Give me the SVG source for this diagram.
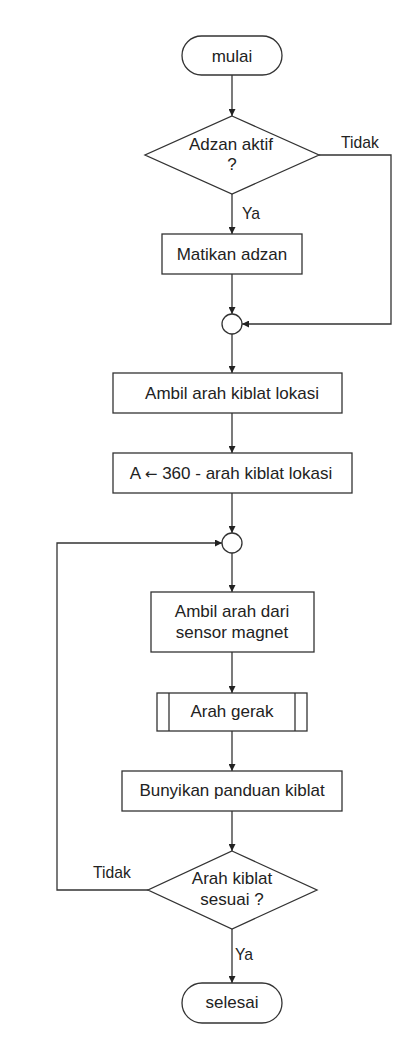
<svg xmlns="http://www.w3.org/2000/svg" width="414" height="1050" viewBox="0 0 414 1050">
  <defs>
    <marker id="arrow" viewBox="0 0 10 10" refX="10" refY="5" markerWidth="7" markerHeight="7" markerUnits="userSpaceOnUse" orient="auto">
      <path d="M0,0 L10,5 L0,10 z" fill="#222"/>
    </marker>
    <style>
      .shape { fill: #ffffff; stroke: #333333; stroke-width: 1.3; }
      .line { fill: none; stroke: #333333; stroke-width: 1.3; }
      .arr { marker-end: url(#arrow); }
      text { font-family: "Liberation Sans", Arial, sans-serif; font-size: 17px; fill: #222222; }
      .c { text-anchor: middle; }
      .lbl { font-size: 15.7px; }
      .sym { font-family: "DejaVu Sans", sans-serif; font-size: 15px; }
    </style>
  </defs>

  <rect width="414" height="1050" fill="#ffffff"/>

  <!-- connectors -->
  <g id="connectors">
    <line class="line arr" x1="232" y1="75" x2="232" y2="116"/>
    <line class="line arr" x1="232" y1="194" x2="232" y2="234"/>
    <polyline class="line arr" points="319,155 391,155 391,324 242,324"/>
    <line class="line arr" x1="232" y1="274" x2="232" y2="314"/>
    <line class="line arr" x1="232" y1="334" x2="232" y2="373"/>
    <line class="line arr" x1="232" y1="413" x2="232" y2="453"/>
    <line class="line arr" x1="232" y1="493" x2="232" y2="533"/>
    <line class="line arr" x1="232" y1="553" x2="232" y2="592"/>
    <line class="line arr" x1="232" y1="652" x2="232" y2="693"/>
    <line class="line arr" x1="232" y1="731" x2="232" y2="771"/>
    <line class="line arr" x1="232" y1="811" x2="232" y2="851"/>
    <polyline class="line arr" points="148,890 57,890 57,543 222,543"/>
    <line class="line arr" x1="232" y1="929" x2="232" y2="983"/>
    <text class="lbl" x="341" y="148">Tidak</text>
    <text class="lbl" x="242" y="219">Ya</text>
    <text class="lbl" x="93" y="878">Tidak</text>
    <text class="lbl" x="235" y="960">Ya</text>
  </g>

  <g id="start">
    <rect class="shape" x="182" y="36" width="100" height="39" rx="19.5"/>
    <text class="c" x="232" y="62">mulai</text>
  </g>

  <g id="adzan-aktif">
    <polygon class="shape" points="232,116 319,155 232,194 145,155"/>
    <text class="c" x="231" y="150">Adzan aktif</text>
    <text class="c" x="232" y="170">?</text>
  </g>

  <g id="matikan-adzan">
    <rect class="shape" x="162" y="234" width="140" height="40"/>
    <text class="c" x="232" y="260">Matikan adzan</text>
  </g>

  <g id="junction-1">
    <circle class="shape" cx="232" cy="324" r="10"/>
  </g>

  <g id="ambil-kiblat">
    <rect class="shape" x="113" y="373" width="229" height="40"/>
    <text class="c" x="232" y="399">Ambil arah kiblat lokasi</text>
  </g>

  <g id="hitung-a">
    <rect class="shape" x="113" y="453" width="239" height="40"/>
    <text class="c" x="231" y="479">A <tspan class="sym">←</tspan> 360 - arah kiblat lokasi</text>
  </g>

  <g id="junction-2">
    <circle class="shape" cx="232" cy="543" r="10"/>
  </g>

  <g id="ambil-sensor">
    <rect class="shape" x="151" y="592" width="163" height="60"/>
    <text class="c" x="232" y="617">Ambil arah dari</text>
    <text class="c" x="232" y="638">sensor magnet</text>
  </g>

  <g id="arah-gerak">
    <rect class="shape" x="157" y="693" width="150" height="38"/>
    <line class="line" x1="169" y1="693" x2="169" y2="731"/>
    <line class="line" x1="295" y1="693" x2="295" y2="731"/>
    <text class="c" x="232" y="717">Arah gerak</text>
  </g>

  <g id="bunyikan">
    <rect class="shape" x="122" y="771" width="220" height="40"/>
    <text class="c" x="232" y="796">Bunyikan panduan kiblat</text>
  </g>

  <g id="kiblat-sesuai">
    <polygon class="shape" points="232,851 317,890 232,929 148,890"/>
    <text class="c" x="232" y="884">Arah kiblat</text>
    <text class="c" x="232" y="905">sesuai ?</text>
  </g>

  <g id="end">
    <rect class="shape" x="182" y="983" width="100" height="40" rx="20"/>
    <text class="c" x="232" y="1008">selesai</text>
  </g>
</svg>
